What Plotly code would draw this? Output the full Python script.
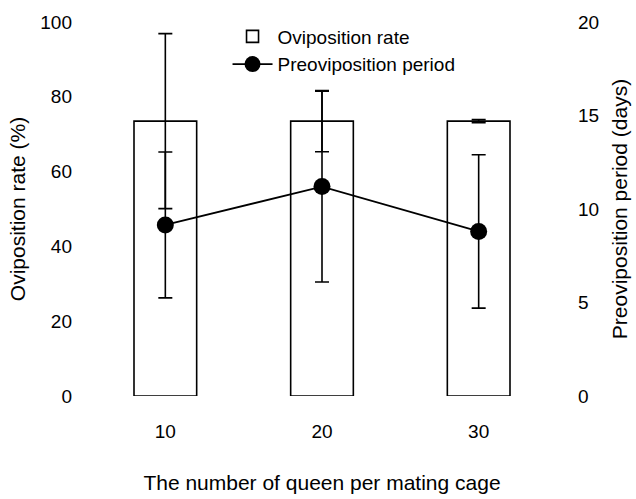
import plotly.graph_objects as go

# Data
cages = ["10", "20", "30"]
ovip_rate = [73.5, 73.5, 73.5]          # %
ovip_rate_err = [23.4, 8.2, 0.4]        # %
preovip_days = [9.15, 11.2, 8.8]        # days
preovip_err = [3.9, 5.1, 4.1]           # days

FONT = "Liberation Sans, Arial, Helvetica, sans-serif"

fig = go.Figure()

fig.add_trace(go.Bar(
    x=cages, y=ovip_rate, name="Oviposition rate",
    width=0.40,
    marker=dict(color="white", line=dict(color="black", width=1.6)),
    error_y=dict(type="data", array=ovip_rate_err, visible=True,
                 color="black", thickness=1.6, width=7),
    yaxis="y",
))

fig.add_trace(go.Scatter(
    x=cages, y=preovip_days, name="Preoviposition period",
    mode="lines+markers",
    line=dict(color="black", width=1.8),
    marker=dict(color="black", size=17, symbol="circle"),
    error_y=dict(type="data", array=preovip_err, visible=True,
                 color="black", thickness=1.6, width=7),
    yaxis="y2",
))

fig.update_layout(
    width=636, height=499,
    margin=dict(l=87, r=79, t=22, b=103, autoexpand=False),
    paper_bgcolor="white", plot_bgcolor="white",
    font=dict(family=FONT, color="black", size=19),
    showlegend=True,
    legend=dict(x=0.299, y=1.012, xanchor="left", yanchor="top",
                bgcolor="rgba(0,0,0,0)", font=dict(size=19, family=FONT),
                itemwidth=40, tracegroupgap=0),
    xaxis=dict(
        type="category", range=[-0.5, 2.5],
        showline=False, showgrid=False, zeroline=False, ticks="",
        ticklabelstandoff=22,
        tickfont=dict(size=19),
        title=dict(text="The number of queen per mating cage",
                   font=dict(size=21), standoff=34),
    ),
    yaxis=dict(
        range=[0, 100], tickvals=[0, 20, 40, 60, 80, 100],
        showline=False, showgrid=False, zeroline=False, ticks="",
        ticklabelstandoff=14,
        tickfont=dict(size=19),
        title=dict(text="Oviposition rate (%)", font=dict(size=21), standoff=8),
    ),
    yaxis2=dict(
        range=[0, 20], tickvals=[0, 5, 10, 15, 20],
        overlaying="y", side="right",
        showline=False, showgrid=False, zeroline=False, ticks="",
        ticklabelstandoff=20,
        tickfont=dict(size=19),
        title=dict(text="Preoviposition period (days)", font=dict(size=21), standoff=14),
    ),
)

fig.write_html("out.html")
